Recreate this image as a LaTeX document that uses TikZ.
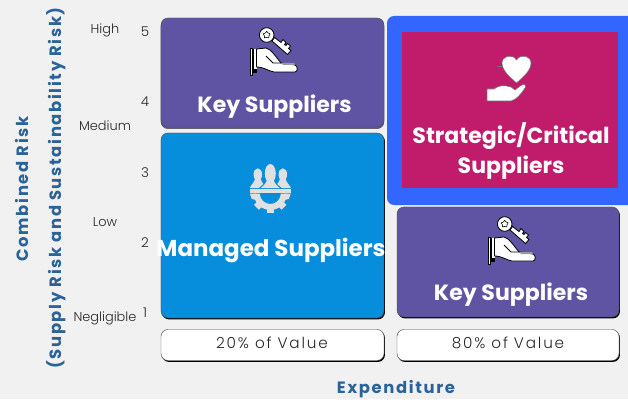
\documentclass[tikz,border=0pt]{standalone}
\usepackage{fontspec}
\setmainfont{Poppins}
\newfontfamily\lightfont{Poppins Light}
\usetikzlibrary{shadows,shapes.geometric}
\definecolor{pagegrey}{HTML}{F1F1F1}
\definecolor{keypurple}{HTML}{5F54A4}
\definecolor{managedblue}{HTML}{068DDC}
\definecolor{strategicred}{HTML}{C11C6C}
\definecolor{framedblue}{HTML}{3366FF}
\definecolor{axisblue}{HTML}{2A6399}
\definecolor{icongrey}{HTML}{E0E0E0}
\tikzset{
  panel/.style={draw=black!70, line width=0.4pt, rounded corners=6pt, inner sep=0pt},
  shadowed/.style={drop shadow={shadow xshift=0.8pt, shadow yshift=-1.2pt, fill=black, opacity=1}},
  stacked/.style={copy shadow={shadow xshift=0pt, shadow yshift=-1.4pt}},
  title/.style={text=white, font=\bfseries\fontsize{18.8}{25}\selectfont, align=center},
  scale label/.style={text=black!85, font=\lightfont\fontsize{11}{13}\selectfont},
  risk number/.style={text=black!85, font=\lightfont\fontsize{11.5}{13}\selectfont},
  axis label/.style={text=axisblue, font=\bfseries\fontsize{14}{17}\selectfont\addfontfeature{LetterSpace=10}},
  value label/.style={text=black!85, font=\lightfont\fontsize{13}{15}\selectfont\addfontfeature{LetterSpace=12}},
  keyhand/.pic={
    \begin{scope}[draw=black, line width=0.7pt, fill=white, line join=round]
    % key
    \filldraw (22,16) -- (37.5,29.5) -- (41,25.5) -- (38.5,23.5) -- (40.5,21) -- (37.5,18.5) -- (36,20.5)
      -- (34.5,19.5) -- (36,17.5) -- (33,14.5) -- (31,17.5) -- (24.5,12.5) -- cycle;
    \filldraw (16.7,10) circle (7.3);
    \node (-keystar) [star, star points=5, draw=black, fill=white, inner sep=0pt, minimum size=0.22cm, line width=0.5pt] at (16.7,10) {};
    % hand
    \filldraw (0,23) rectangle (2.5,50);
    \filldraw[fill=black] (2.5,24) rectangle (6.5,47);
    \fill[white] (4,24) rectangle (6.5,44);
    \filldraw (6.5,24) -- (16,23) .. controls (21,24) and (26,32) .. (31,38) -- (45,40)
      .. controls (48,41) and (48,47) .. (45,47) -- (24,47)
      .. controls (18,46) and (14,42) .. (6.5,42) -- cycle;
    \draw (16,31) -- (23,38) -- (31,38);
    \fill[black!40] (31,38) -- (44,38) -- (45,40) -- (33,40) -- cycle;
    \end{scope}
  },
  heartcare/.pic={
    \begin{scope}[draw=black!55, line width=0.5pt, fill=white, line join=round]
    % heart
    \filldraw (14.5,28) .. controls (9,23) and (0,16) .. (0,8) .. controls (0,1) and (10,-2) .. (14.5,5)
      .. controls (19,-2) and (29,1) .. (29,8) .. controls (29,16) and (20,23) .. (14.5,28) -- cycle;
    \draw (0,11) -- (-5,11);
    % hand
    \filldraw (-15,34) -- (-8,34) .. controls (-3,30) and (2,30) .. (9,32) -- (13,35) -- (18,31)
      .. controls (22,28) and (25,30) .. (23,33) .. controls (19,39) and (14,45) .. (9,46) -- (-15,46) -- cycle;
    \end{scope}
  },
  peoplegear/.pic={
    \begin{scope}[fill=icongrey, draw=none]
    % people
    \fill (0,9.5) ellipse (5.5 and 9.5);
    \fill (-12.5,10.5) ellipse (4.3 and 6.2);
    \fill (12.5,10.5) ellipse (4.3 and 6.2);
    \fill (-9.5,24) .. controls (-6,21) and (-4,19) .. (-3,15) -- (3,15) .. controls (4,19) and (6,21) .. (9.5,24) -- cycle;
    \fill (-20.5,24) .. controls (-19,20) and (-16,19) .. (-15,14) -- (-10,14) .. controls (-9,17) and (-8,19) .. (-7,20) -- (-11.5,24) -- cycle;
    \fill (20.5,24) .. controls (19,20) and (16,19) .. (15,14) -- (10,14) .. controls (9,17) and (8,19) .. (7,20) -- (11.5,24) -- cycle;
    % gear
    \fill (-20.5,25) rectangle (20.5,29);
    \fill (-16.5,29.5) arc[start angle=180, end angle=0, radius=16.5] -- (10.5,29.5) arc[start angle=0, end angle=180, radius=10.5] -- cycle;
    \foreach \a in {-45,0,45}
      \fill[rotate around={\a:(0,29.5)}] (-3.4,44) rectangle (3.4,49);
    \fill (-20.5,29.5) -- (-14,29.5) -- (-14,36) -- (-18.5,35) -- cycle;
    \fill (20.5,29.5) -- (14,29.5) -- (14,36) -- (18.5,35) -- cycle;
    \end{scope}
  }
}
\begin{document}
\begin{tikzpicture}[x=0.03cm, y=-0.03cm]
  \useasboundingbox (0,0) rectangle (628,399);
  \clip (0,0) rectangle (628,399);
  \fill[pagegrey] (0,0) rectangle (628,399);

  % quadrants
  \node (keytop) [panel, fill=keypurple, stacked, minimum width=6.69cm, minimum height=3.27cm] at (272.5,72.5) {};
  \node (managed) [panel, fill=managedblue, shadowed, minimum width=6.69cm, minimum height=5.55cm] at (272.5,225.5) {};
  \node (frame) [fill=framedblue, rounded corners=6pt, inner sep=0pt, minimum width=7.5cm, minimum height=5.67cm] at (512,110.5) {};
  \node (strategic) [fill=strategicred, inner sep=0pt, minimum width=6.48cm, minimum height=4.68cm] at (510,110) {};
  \node (keylow) [panel, fill=keypurple, shadowed, minimum width=6.66cm, minimum height=3.3cm] at (508,262) {};

  % value boxes
  \node (valuelow) [panel, fill=white, shadowed, minimum width=6.69cm, minimum height=0.93cm, value label] at (272.5,345) {};
  \node (valuehigh) [panel, fill=white, shadowed, minimum width=6.66cm, minimum height=0.93cm, value label] at (508,345) {};
  \node (valuelowtext) [value label] at (272,343) {20\% of Value};
  \node (valuehightext) [value label] at (508,343) {80\% of Value};

  % titles
  \node (keytoptext) [title] at (274.5,107) {Key Suppliers};
  \node (managedtext) [title, font=\bfseries\fontsize{19.6}{25}\selectfont] at (271,250.5) {Managed Suppliers};
  \node (strategictext) [title] at (511,151) {Strategic/Critical\\Suppliers};
  \node (keylowtext) [title] at (511,294.5) {Key Suppliers};

  % icons
  \pic (keyone) at (250,25) {keyhand};
  \pic (keytwo) at (488,214) {keyhand};
  \pic at (502,55) {heartcare};
  \pic at (270.3,164) {peoplegear};

  % risk scale
  \node (high) [scale label] at (105,30) {High};
  \node (medium) [scale label] at (105,126) {Medium};
  \node (low) [scale label] at (105,222) {Low};
  \node (negligible) [scale label] at (105,318) {Negligible};
  \foreach \n/\y in {5/32,4/102,3/173,2/243,1/313}
    \node (level\n) [risk number] at (145,\y) {\n};

  % axis titles
  \node (riskaxis) [axis label, rotate=90] at (22,189) {Combined Risk};
  \node (riskaxissub) [axis label, rotate=90] at (56,188) {(Supply Risk and Sustainability Risk)};
  \node (spendaxis) [axis label, inner sep=0pt] at (396,389.5) {Expenditure};
\end{tikzpicture}
\end{document}
